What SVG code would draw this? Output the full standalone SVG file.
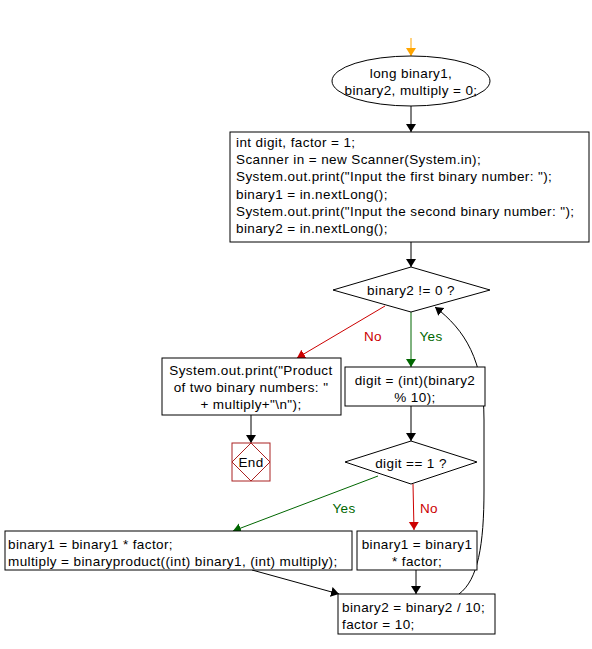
<svg xmlns="http://www.w3.org/2000/svg" width="592" height="649" viewBox="0 0 592 649">
<defs>
<marker id="ab" markerWidth="8" markerHeight="12" refX="8" refY="6" orient="auto" markerUnits="userSpaceOnUse"><path d="M0,1 L8,6 L0,11 Z" fill="#000"/></marker>
<marker id="ao" markerWidth="8" markerHeight="12" refX="8" refY="6" orient="auto" markerUnits="userSpaceOnUse"><path d="M0,1 L8,6 L0,11 Z" fill="#ffa500"/></marker>
<marker id="ar" markerWidth="8" markerHeight="12" refX="8" refY="6" orient="auto" markerUnits="userSpaceOnUse"><path d="M0,1 L8,6 L0,11 Z" fill="#cc0000"/></marker>
<marker id="ag" markerWidth="8" markerHeight="12" refX="8" refY="6" orient="auto" markerUnits="userSpaceOnUse"><path d="M0,1 L8,6 L0,11 Z" fill="#006600"/></marker>
<style>
text{font-family:"Liberation Sans",Arial,sans-serif;font-size:13.5px;letter-spacing:0.4px;fill:#000}
.c{text-anchor:middle}
.shape{fill:#fff;stroke:#000;stroke-width:1}
.line{fill:none;stroke:#000;stroke-width:1}
.red{stroke:#cc0000}
.grn{stroke:#006600}
.lr{fill:#cc0000}
.lg{fill:#006600}
</style>
</defs>
<g id="connectors">
<line x1="411" y1="38" x2="411" y2="56" class="line" style="stroke:#ffa500" marker-end="url(#ao)"/>
<line x1="411" y1="106" x2="411" y2="132" class="line" marker-end="url(#ab)"/>
<line x1="411" y1="242" x2="411" y2="267" class="line" marker-end="url(#ab)"/>
<line x1="385" y1="306" x2="297" y2="358" class="line red" marker-end="url(#ar)"/>
<text x="373" y="341" class="c lr">No</text>
<line x1="411" y1="312" x2="411" y2="367" class="line grn" marker-end="url(#ag)"/>
<text x="431" y="341" class="c lg">Yes</text>
<line x1="251" y1="415" x2="251" y2="443" class="line" marker-end="url(#ab)"/>
<line x1="411" y1="406" x2="411" y2="441" class="line" marker-end="url(#ab)"/>
<line x1="378" y1="476" x2="233" y2="531" class="line grn" marker-end="url(#ag)"/>
<text x="344" y="513" class="c lg">Yes</text>
<line x1="413" y1="484" x2="414" y2="530" class="line red" marker-end="url(#ar)"/>
<text x="429" y="513" class="c lr">No</text>
<line x1="252" y1="570" x2="339" y2="594" class="line" marker-end="url(#ab)"/>
<line x1="416" y1="570" x2="416" y2="594" class="line" marker-end="url(#ab)"/>
<path d="M459,594 C478,580 484,545 484,490 L484,420 C484,360 465,330 435,307" class="line" marker-end="url(#ab)"/>
</g>
<g id="start">
<ellipse cx="411" cy="81" rx="79" ry="25" class="shape"/>
<text x="411" y="78" class="c">long binary1,</text>
<text x="411" y="95" class="c">binary2, multiply = 0;</text>
</g>
<g id="init">
<rect x="230" y="132" width="359" height="110" class="shape"/>
<text x="236" y="147">int digit, factor = 1;</text>
<text x="236" y="164.2">Scanner in = new Scanner(System.in);</text>
<text x="236" y="181.4">System.out.print("Input the first binary number: ");</text>
<text x="236" y="198.6">binary1 = in.nextLong();</text>
<text x="236" y="215.8">System.out.print("Input the second binary number: ");</text>
<text x="236" y="233">binary2 = in.nextLong();</text>
</g>
<g id="cond1">
<polygon points="411,267 490,290 411,312 333,290" class="shape"/>
<text x="411" y="295" class="c">binary2 != 0 ?</text>
</g>
<g id="print">
<rect x="162" y="358" width="179" height="57" class="shape"/>
<text x="251" y="375" class="c">System.out.print("Product</text>
<text x="251" y="392" class="c">of two binary numbers: "</text>
<text x="251" y="409" class="c">+ multiply+"\n");</text>
</g>
<g id="end">
<rect x="232" y="443" width="38" height="38" fill="#fff" stroke="#aa2222"/>
<polygon points="251,443 270,462 251,481 232,462" fill="none" stroke="#aa2222"/>
<text x="251" y="467" class="c">End</text>
</g>
<g id="digit">
<rect x="345" y="367" width="140" height="39" class="shape"/>
<text x="415" y="385" class="c">digit = (int)(binary2</text>
<text x="415" y="402" class="c">% 10);</text>
</g>
<g id="cond2">
<polygon points="411,441 477,462 411,484 345,462" class="shape"/>
<text x="411" y="468" class="c">digit == 1 ?</text>
</g>
<g id="yesbox">
<rect x="5" y="531" width="347" height="39" class="shape"/>
<text x="8" y="549">binary1 = binary1 * factor;</text>
<text x="8" y="566">multiply = binaryproduct((int) binary1, (int) multiply);</text>
</g>
<g id="nobox">
<rect x="357" y="531" width="120" height="39" class="shape"/>
<text x="417" y="549" class="c">binary1 = binary1</text>
<text x="417" y="566" class="c">* factor;</text>
</g>
<g id="update">
<rect x="338" y="594" width="157" height="40" class="shape"/>
<text x="342" y="612">binary2 = binary2 / 10;</text>
<text x="342" y="629">factor = 10;</text>
</g>
</svg>
